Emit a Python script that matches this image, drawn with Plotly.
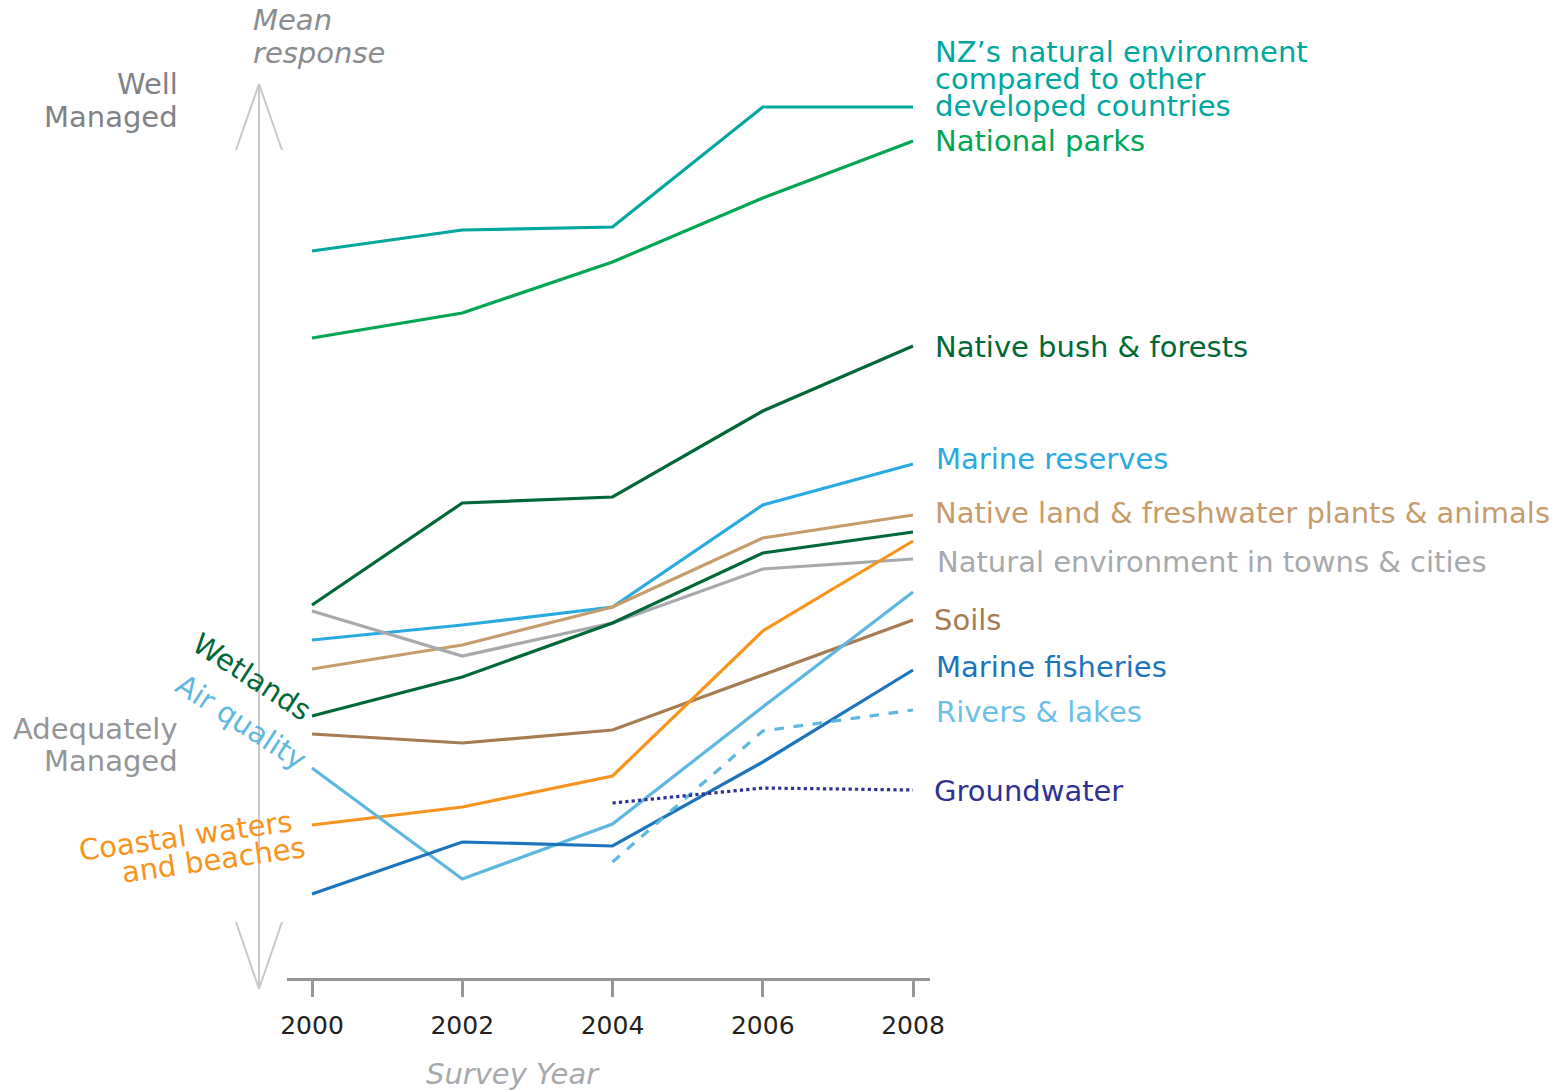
import plotly.graph_objects as go

# survey years and mean responses (arbitrary 1-5 style scale)
years = [2000, 2002, 2004, 2006, 2008]
years_late = [2004, 2006, 2008]

nz_vs_other = [3.988, 4.030, 4.036, 4.276, 4.276]
national_parks = [3.814, 3.864, 3.966, 4.094, 4.208]
native_bush = [3.280, 3.484, 3.496, 3.668, 3.798]
marine_reserves = [3.210, 3.240, 3.276, 3.480, 3.562]
native_plants_animals = [3.152, 3.200, 3.276, 3.414, 3.460]
towns_cities = [3.268, 3.178, 3.244, 3.352, 3.372]
wetlands = [3.058, 3.136, 3.244, 3.384, 3.426]
soils = [3.022, 3.004, 3.030, 3.140, 3.250]
coastal = [2.840, 2.876, 2.938, 3.228, 3.408]
air_quality = [2.954, 2.732, 2.842, 3.076, 3.306]
marine_fisheries = [2.702, 2.806, 2.798, 2.966, 3.150]
rivers_lakes = [2.766, 3.028, 3.070]
groundwater = [2.884, 2.914, 2.910]

tick_labels = ["2000", "2002", "2004", "2006", "2008"]

FONT = "DejaVu Sans"

# plot area in pixels (figure is 1564 x 1092)
L, R, T, B = 287, 930, 0, 978
W, H = 1564, 1092


def px(x):
    return (x - L) / (R - L)


def py(y):
    return 1 - (y - T) / (B - T)


fig = go.Figure()

series = [
    (years, nz_vs_other, "#00A79D", "solid"),
    (years, national_parks, "#00A651", "solid"),
    (years, native_bush, "#006837", "solid"),
    (years, marine_reserves, "#29ABE2", "solid"),
    (years, native_plants_animals, "#C69C6D", "solid"),
    (years, towns_cities, "#A7A9AC", "solid"),
    (years, wetlands, "#006837", "solid"),
    (years, soils, "#A67C52", "solid"),
    (years, coastal, "#F7941D", "solid"),
    (years, air_quality, "#5DB7DE", "solid"),
    (years, marine_fisheries, "#1C75BC", "solid"),
    (years_late, rivers_lakes, "#5DB7DE", "dash"),
    (years_late, groundwater, "#2E3192", "dot"),
]
for xs, ys, clr, dash in series:
    fig.add_trace(go.Scatter(x=xs, y=ys, mode="lines", line=dict(color=clr, width=3.2, dash=dash),
                             hoverinfo="skip", showlegend=False))

annotations = []


def lab(text, x, y, color, size=29, anchor="left", angle=0):
    annotations.append(dict(text=text, x=px(x), y=py(y), xref="paper", yref="paper",
                            xanchor=anchor, yanchor="middle", showarrow=False, textangle=angle,
                            font=dict(family=FONT, size=size, color=color)))


# right hand labels
lab("NZ\u2019s natural environment", 933, 52, "#00A79D")
lab("compared to other", 933, 79, "#00A79D")
lab("developed countries", 933, 106, "#00A79D")
lab("National parks", 933, 141, "#00A651")
lab("Native bush &amp; forests", 933, 347, "#006837")
lab("Marine reserves", 934, 459, "#29ABE2")
lab("Native land &amp; freshwater plants &amp; animals", 933, 513, "#C69C6D")
lab("Natural environment in towns &amp; cities", 935, 562, "#A7A9AC")
lab("Soils", 932, 620, "#A67C52")
lab("Marine fisheries", 934, 667, "#1C75BC")
lab("Rivers &amp; lakes", 934, 712, "#6CC0E5")
lab("Groundwater", 932, 791, "#2E3192")

# left hand labels
lab("Wetlands", 252, 677, "#006837", angle=33, anchor="center")
lab("Air quality", 241, 722, "#5DB7DE", angle=33, anchor="center")
lab("Coastal waters", 185, 836, "#F7941D", angle=-8, anchor="center")
lab("and beaches", 213, 860, "#F7941D", angle=-8, anchor="center")

lab("Well", 180, 84, "#808285", anchor="right")
lab("Managed", 180, 117, "#808285", anchor="right")
lab("Adequately", 180, 729, "#939598", anchor="right")
lab("Managed", 180, 761, "#939598", anchor="right")
lab("<i>Mean</i>", 251, 20, "#8A8C8E")
lab("<i>response</i>", 251, 53, "#8A8C8E")
lab("<i>Survey Year</i>", 513, 1074, "#A7A9AC", anchor="center")

# double headed "mean response" arrow
arrow_clr = "#C7C8CA"
shapes = [
    dict(type="line", xref="paper", yref="paper", x0=px(259), x1=px(259), y0=py(84), y1=py(989)),
    dict(type="line", xref="paper", yref="paper", x0=px(236), x1=px(259), y0=py(150), y1=py(84)),
    dict(type="line", xref="paper", yref="paper", x0=px(282), x1=px(259), y0=py(150), y1=py(84)),
    dict(type="line", xref="paper", yref="paper", x0=px(236), x1=px(259), y0=py(922), y1=py(989)),
    dict(type="line", xref="paper", yref="paper", x0=px(282), x1=px(259), y0=py(922), y1=py(989)),
]
for s in shapes:
    s["line"] = dict(color=arrow_clr, width=2)

fig.update_layout(
    width=W, height=H,
    margin=dict(l=L, r=W - R, t=T, b=H - B, pad=0),
    plot_bgcolor="white", paper_bgcolor="white",
    showlegend=False,
    annotations=annotations,
    shapes=shapes,
    xaxis=dict(range=[2000 - 25 / 75.125, 2008 + 17 / 75.125], tickvals=years, ticktext=tick_labels,
               showline=True, linecolor="#939598", linewidth=3, ticks="outside", ticklen=16,
               tickwidth=3, tickcolor="#939598", showgrid=False, zeroline=False,
               tickfont=dict(family=FONT, size=25, color="#231F20"), ticklabelstandoff=7),
    yaxis=dict(range=[3 - (B - 745) * 0.002, 3 + (745 - T) * 0.002], visible=False),
)

# drop the default page margin so the figure sits at the window's top-left corner
fig.write_html("out.html", config={"displayModeBar": False},
               post_script="document.body.style.margin='0px';")
